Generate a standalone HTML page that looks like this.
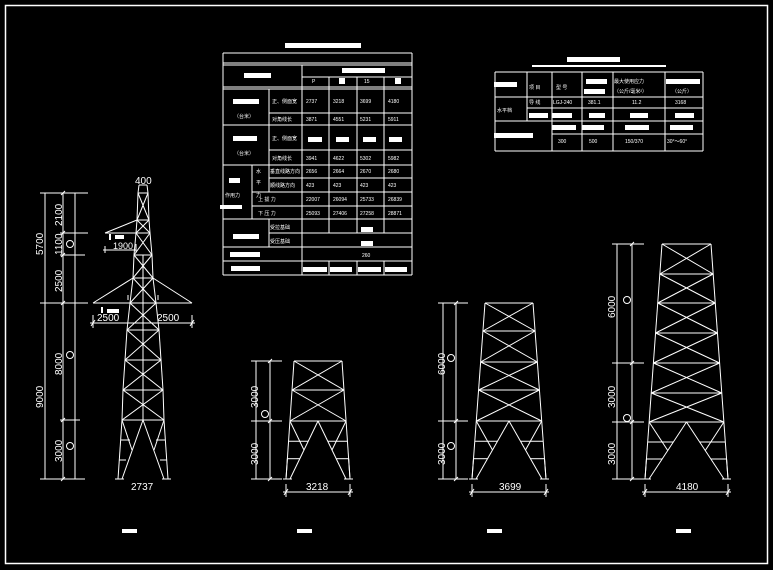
<!DOCTYPE html>
<html><head><meta charset="utf-8"><style>
html,body{margin:0;padding:0;background:#000;width:773px;height:570px;overflow:hidden}
svg{display:block}
text{fill:#fff;font-family:"Liberation Sans","Noto Sans CJK SC",sans-serif}
</style></head><body>
<svg id="s" width="773" height="570" viewBox="0 0 773 570" xmlns="http://www.w3.org/2000/svg">
<rect x="0" y="0" width="773" height="570" fill="#000"/>
<rect x="5.5" y="5.5" width="762" height="558" fill="none" stroke="#fff" stroke-width="1.5"/>
<g id="g" stroke="#fff" stroke-width="1" fill="none"></g>
<g fill="#fff" stroke="none">
<rect x="285" y="43" width="76" height="5"/>
<rect x="244" y="73" width="27" height="5"/>
<rect x="342" y="68" width="43" height="5"/>
<rect x="339" y="78" width="6" height="6"/><rect x="395" y="78" width="6" height="6"/>
<rect x="233" y="99" width="26" height="5"/>
<rect x="233" y="136" width="24" height="5"/>
<rect x="308" y="137" width="14" height="5"/><rect x="336" y="137" width="13" height="5"/><rect x="363" y="137" width="13" height="5"/><rect x="389" y="137" width="13" height="5"/>
<rect x="229" y="178" width="11" height="5"/>
<rect x="220" y="205" width="22" height="4"/>
<rect x="233" y="234" width="26" height="5"/>
<rect x="361" y="227" width="12" height="5"/><rect x="361" y="241" width="12" height="5"/>
<rect x="230" y="252" width="30" height="5"/>
<rect x="231" y="266" width="29" height="5"/>
<rect x="303" y="267" width="24" height="5"/><rect x="330" y="267" width="22" height="5"/><rect x="358" y="267" width="23" height="5"/><rect x="385" y="267" width="22" height="5"/>
<rect x="567" y="57" width="53" height="5"/>
<rect x="532" y="65" width="134" height="2"/>
<rect x="494" y="82" width="23" height="5"/>
<rect x="586" y="79" width="21" height="5"/><rect x="584" y="89" width="21" height="5"/>
<rect x="666" y="79" width="34" height="5"/>
<rect x="529" y="113" width="19" height="5"/><rect x="552" y="113" width="20" height="5"/><rect x="589" y="113" width="16" height="5"/><rect x="630" y="113" width="18" height="5"/><rect x="675" y="113" width="19" height="5"/>
<rect x="552" y="125" width="24" height="5"/><rect x="582" y="125" width="22" height="5"/><rect x="625" y="125" width="24" height="5"/><rect x="670" y="125" width="23" height="5"/>
<rect x="494" y="133" width="39" height="5"/>
<rect x="115" y="235" width="9" height="4"/><rect x="109" y="234" width="2" height="6"/>
<rect x="107" y="309" width="12" height="4"/><rect x="101" y="307" width="2" height="6"/>
<rect x="122" y="529" width="15" height="4"/><rect x="297" y="529" width="15" height="4"/><rect x="487" y="529" width="15" height="4"/><rect x="676" y="529" width="15" height="4"/>
</g>
<g font-size="5">
<text x="312" y="83">P</text><text x="364" y="83">15</text>
<text x="272" y="103">正、侧面宽</text><text x="272" y="121">对角线长</text>
<text x="272" y="140">正、侧面宽</text><text x="272" y="160">对角线长</text>
<text x="234" y="118">（台米）</text><text x="234" y="155">（台米）</text>
<text x="306" y="103">2737</text><text x="333" y="103">3218</text><text x="360" y="103">3699</text><text x="388" y="103">4180</text>
<text x="306" y="121">3871</text><text x="333" y="121">4551</text><text x="360" y="121">5231</text><text x="388" y="121">5911</text>
<text x="306" y="160">3941</text><text x="333" y="160">4622</text><text x="360" y="160">5302</text><text x="388" y="160">5982</text>
<text x="256" y="173">水</text><text x="256" y="184">平</text><text x="256" y="197">力</text>
<text x="270" y="173">垂直线路方向</text><text x="270" y="187">顺线路方向</text>
<text x="306" y="173">2656</text><text x="333" y="173">2664</text><text x="360" y="173">2670</text><text x="388" y="173">2680</text>
<text x="306" y="187">423</text><text x="333" y="187">423</text><text x="360" y="187">423</text><text x="388" y="187">423</text>
<text x="225" y="197">作用力</text>
<text x="258" y="201">上 拔 力</text><text x="258" y="215">下 压 力</text>
<text x="306" y="201">22007</text><text x="333" y="201">26094</text><text x="360" y="201">25733</text><text x="388" y="201">26839</text>
<text x="306" y="215">25093</text><text x="333" y="215">27406</text><text x="360" y="215">27258</text><text x="388" y="215">28871</text>
<text x="270" y="229">受拉基础</text><text x="270" y="243">受压基础</text>
<text x="362" y="257">260</text>
<text x="529" y="89">项 目</text><text x="556" y="89">型 号</text>
<text x="614" y="83">最大使用应力</text><text x="614" y="93">（公斤/毫米²）</text><text x="672" y="93">（公斤）</text>
<text x="529" y="104">导 线</text><text x="553" y="104">LGJ-240</text><text x="588" y="104">381.1</text><text x="632" y="104">11.2</text><text x="675" y="104">3168</text>
<text x="497" y="112">水平档</text>
<text x="558" y="143">300</text><text x="589" y="143">500</text><text x="625" y="143">150/370</text><text x="667" y="143">30°～60°</text>
</g>
<g font-size="10">
<text x="135" y="184">400</text>
<text x="113" y="249" font-size="9">1900</text>
<text x="97" y="321">2500</text><text x="157" y="321">2500</text>
<text x="131" y="490">2737</text>
<text x="306" y="490">3218</text>
<text x="499" y="490">3699</text>
<text x="676" y="490">4180</text>
<text transform="translate(43,255) rotate(-90)">5700</text>
<text transform="translate(43,408) rotate(-90)">9000</text>
<text transform="translate(62,226) rotate(-90)">2100</text>
<text transform="translate(62,255) rotate(-90)">1100</text>
<text transform="translate(62,292) rotate(-90)">2500</text>
<text transform="translate(62,375) rotate(-90)">8000</text>
<text transform="translate(62,462) rotate(-90)">3000</text>
<text transform="translate(258,408) rotate(-90)">3000</text>
<text transform="translate(258,465) rotate(-90)">3000</text>
<text transform="translate(445,375) rotate(-90)">6000</text>
<text transform="translate(445,465) rotate(-90)">3000</text>
<text transform="translate(615,318) rotate(-90)">6000</text>
<text transform="translate(615,408) rotate(-90)">3000</text>
<text transform="translate(615,465) rotate(-90)">3000</text>
</g>
</svg>
<script>
var g=document.getElementById('g'),o='';
function L(a,b,c,d){o+='<line x1="'+a+'" y1="'+b+'" x2="'+c+'" y2="'+d+'"/>';}
function C(x,y){o+='<circle cx="'+x+'" cy="'+y+'" r="3.5"/>';}
function H(x1,x2,y){L(x1,y,x2,y);}function V(x,y1,y2){L(x,y1,x,y2);}
H(223,412,53);H(223,412,63);H(223,412,65);H(302,412,77);H(223,412,87);H(223,412,89);
H(269,412,113);H(223,412,125);H(269,412,150);H(223,412,165);H(269,412,178);H(252,412,192);H(252,412,206);H(223,412,219);H(269,412,233);H(223,412,247);H(223,412,261);H(223,412,275);
V(223,53,275);V(412,53,275);V(302,65,275);V(269,89,165);V(252,165,219);V(269,165,192);V(269,219,247);
[329,357,384].forEach(function(x){V(x,77,233);V(x,261,275);});
H(495,703,72);H(495,703,97);H(527,703,108);H(552,703,121);H(552,703,134);H(495,703,151);H(495,552,121);
V(495,72,151);V(703,72,151);V(527,72,121);V(552,72,151);V(582,72,151);V(613,72,151);V(665,72,151);
function tower(tY,tL,tR,bY,bL,bR,levels,vY){
 function lx(y){return tL+(bL-tL)*(y-tY)/(bY-tY);}
 function rx(y){return tR+(bR-tR)*(y-tY)/(bY-tY);}
 L(tL,tY,bL,bY);L(tR,tY,bR,bY);
 var lv=[tY].concat(levels).concat([vY]);
 for(var i=0;i<lv.length;i++)H(lx(lv[i]),rx(lv[i]),lv[i]);
 for(var i=0;i<lv.length-1;i++){var a=lv[i],b=lv[i+1];L(lx(a),a,rx(b),b);L(rx(a),a,lx(b),b);}
 var c=(lx(vY)+rx(vY))/2;L(c,vY,bL+4,bY);L(c,vY,bR-4,bY);
 var m=vY+(bY-vY)*0.5;var f=function(y){return (y-vY)/(bY-vY);};
 var pl=function(y){return c+(bL+4-c)*f(y);},pr=function(y){return c+(bR-4-c)*f(y);};
 L(lx(vY),vY,pl(m),m);L(rx(vY),vY,pr(m),m);
 [vY+(bY-vY)*0.35,vY+(bY-vY)*0.65].forEach(function(y){H(lx(y),pl(y),y);H(pr(y),rx(y),y);});
 L(lx(vY+(bY-vY)*0.65),vY+(bY-vY)*0.65,lx(bY-2),bY-2);L(rx(vY+(bY-vY)*0.65),vY+(bY-vY)*0.65,rx(bY-2),bY-2);
 H(bL-3,bL+6,bY);H(bR-6,bR+3,bY);
}
function dim(x1,x2,y){H(x1-3,x2+3,y);V(x1,y-8,y+5);V(x2,y-8,y+5);L(x1-2,y+3,x1+2,y-3);L(x2-2,y+3,x2+2,y-3);}
function vdim(xa,xb,ys,ext){V(xa,ys[0],ys[ys.length-1]);V(xb,ys[0],ys[ys.length-1]);ys.forEach(function(y){H(xa-5,xb+ext,y);L(xb-2,y+2,xb+2,y-2);});}
tower(361,294,342,479,286,350,[390],421);dim(286,350,492);vdim(256,270,[361,421,479],12);C(265,414);
tower(303,485,533,479,472,546,[331,362,390],421);dim(472,546,492);vdim(443,456,[303,421,479],12);C(451,358);C(451,446);
tower(244,662,711,479,645,728,[274,303,333,363,393],422);dim(645,728,492);vdim(617,632,[244,363,422,479],12);C(627,300);C(627,418);
var lp=[[139,185],[138,193],[137,220],[136,233],[134,255],[133,278],[130,303],[127,330],[125,360],[123,390],[122,420]];
for(var i=0;i<lp.length;i++){var y=lp[i][1],l=lp[i][0],r=286-l;H(l,r,y);
 if(i<lp.length-1){var n=lp[i+1];L(l,y,n[0],n[1]);L(r,y,286-n[0],n[1]);if(i>0){L(l,y,286-n[0],n[1]);L(r,y,n[0],n[1]);}}}
L(122,420,118,479);L(164,420,168,479);
(function(){var vY=420,bY=479,c=143;L(c,vY,122,bY);L(c,vY,164,bY);L(122,vY,132,450);L(164,vY,154,450);
H(121,130,440);H(156,165,440);H(119,126,460);H(160,167,460);H(115,124,479);H(162,171,479);})();
H(93,192,303);L(93,303,133,278);L(192,303,153,278);V(128,295,300);V(158,295,300);
L(105,233,137,220);H(105,136,233);
V(143,255,420);
dim(93,192,323);V(143,318,328);
H(103,136,250);V(105,246,253);V(136,244,253);
V(45,193,479);V(63,193,479);V(75,193,479);
[[193,40,88],[233,60,88],[255,60,85],[303,40,88],[420,60,80],[479,40,85]].forEach(function(t){H(t[1],t[2],t[0]);L(61,t[0]+2,65,t[0]-2);});
C(70,244);C(70,355);C(70,446);
g.innerHTML=o;
</script>
</body></html>
